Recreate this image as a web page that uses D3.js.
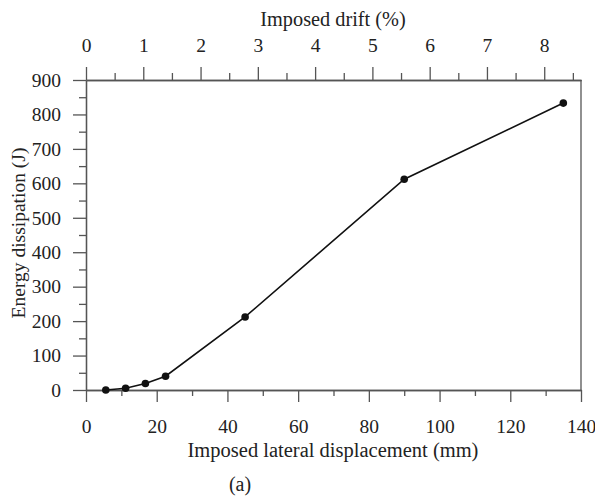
<!DOCTYPE html>
<html>
<head>
<meta charset="utf-8">
<script src="https://cdn.jsdelivr.net/npm/d3@7"></script>
<style>
  body { margin: 0; background: #fff; }
  svg text { font-family: "Liberation Serif", "Times New Roman", serif; fill: #222; }
</style>
</head>
<body>
<svg id="chart" width="595" height="497"></svg>
<script>
// --- data ---
const displacement = [5.6, 11.2, 16.8, 22.5, 45, 90, 135];   // mm
const energy = [0, 5, 19, 40, 212, 612, 833];                  // J
const xTicks = [0, 20, 40, 60, 80, 100, 120, 140];
const yTicks = [0, 100, 200, 300, 400, 500, 600, 700, 800, 900];
const driftTicks = [0, 1, 2, 3, 4, 5, 6, 7, 8];
const mmPerPercent = 16.2; // 1% drift in mm

const svg = d3.select("#chart");
const plot = { left: 86, right: 581, top: 80, bottom: 390 };
const axisColor = "#555";

const x = d3.scaleLinear().domain([0, 140]).range([plot.left, plot.right]);
const y = d3.scaleLinear().domain([0, 900]).range([plot.bottom, plot.top]);
const drift = d3.scaleLinear().domain([0, 140 / mmPerPercent]).range([plot.left, plot.right]);

function styleAxis(g) {
    g.selectAll("path, line").attr("stroke", axisColor).attr("stroke-width", 1.3);
    g.selectAll("text").attr("font-size", 19.5).attr("fill", "#222")
        .attr("font-family", "Liberation Serif, Times New Roman, serif");
}

// minor ticks first (no labels)
svg.append("g").attr("transform", `translate(0,${plot.bottom})`)
    .call(d3.axisBottom(x).tickValues(d3.range(10, 140, 20)).tickSize(6).tickFormat("").tickSizeOuter(0))
    .call(styleAxis);
svg.append("g").attr("transform", `translate(${plot.left},0)`)
    .call(d3.axisLeft(y).tickValues(d3.range(50, 900, 100)).tickSize(7).tickFormat("").tickSizeOuter(0))
    .call(styleAxis);
svg.append("g").attr("transform", `translate(0,${plot.top})`)
    .call(d3.axisTop(drift).tickValues(d3.range(0.5, 9, 1)).tickSize(7).tickFormat("").tickSizeOuter(0))
    .call(styleAxis);

// major ticks
svg.append("g").attr("transform", `translate(0,${plot.bottom})`)
    .call(d3.axisBottom(x).tickValues(xTicks).tickSize(12).tickPadding(17).tickSizeOuter(0))
    .call(styleAxis);
svg.append("g").attr("transform", `translate(${plot.left},0)`)
    .call(d3.axisLeft(y).tickValues(yTicks).tickSize(13).tickPadding(12).tickSizeOuter(0))
    .call(styleAxis);
svg.append("g").attr("transform", `translate(0,${plot.top})`)
    .call(d3.axisTop(drift).tickValues(driftTicks).tickSize(13).tickPadding(15).tickSizeOuter(0))
    .call(styleAxis);

// right frame edge
svg.append("line")
    .attr("x1", plot.right).attr("x2", plot.right).attr("y1", plot.top).attr("y2", plot.bottom)
    .attr("stroke", axisColor).attr("stroke-width", 1.3);

// series
const pts = displacement.map((d, i) => [d, energy[i]]);
svg.append("path")
    .datum(pts)
    .attr("fill", "none")
    .attr("stroke", "#111")
    .attr("stroke-width", 1.6)
    .attr("d", d3.line().x(d => x(d[0])).y(d => y(d[1])));
svg.selectAll("circle.pt").data(pts).join("circle")
    .attr("class", "pt")
    .attr("cx", d => x(d[0])).attr("cy", d => y(d[1]))
    .attr("r", 3.8).attr("fill", "#111");

// titles
svg.append("text").attr("x", 333).attr("y", 457)
    .attr("text-anchor", "middle").attr("font-size", 20.5)
    .text("Imposed lateral displacement (mm)");
svg.append("text").attr("x", 333).attr("y", 26)
    .attr("text-anchor", "middle").attr("font-size", 20.3)
    .text("Imposed drift (%)");
svg.append("text")
    .attr("transform", "translate(25,233) rotate(-90)")
    .attr("text-anchor", "middle").attr("font-size", 19.5)
    .text("Energy dissipation (J)");
svg.append("text").attr("x", 240).attr("y", 491)
    .attr("text-anchor", "middle").attr("font-size", 20)
    .text("(a)");
</script>
</body>
</html>
